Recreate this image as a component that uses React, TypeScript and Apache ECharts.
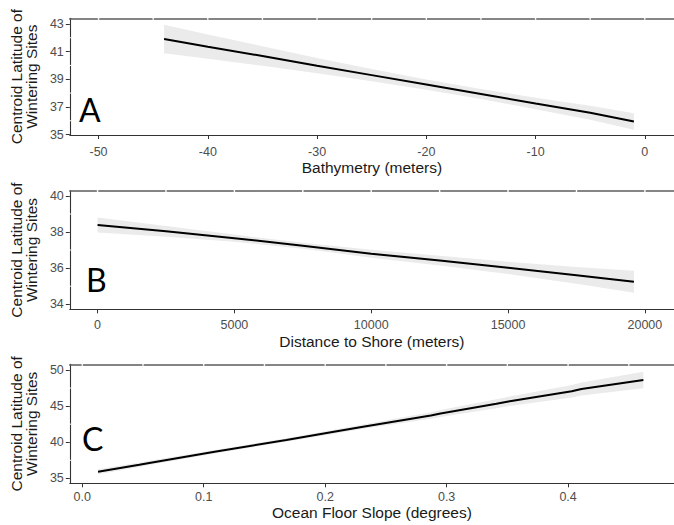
import React, { useEffect, useRef } from "react";
import * as echarts from "echarts";

// ---- Panel A: Bathymetry ----
const aX = [-44, -40, -35, -30, -25, -20, -15, -10, -5, -1];
const aFit = [41.92, 41.36, 40.68, 39.98, 39.3, 38.62, 37.94, 37.25, 36.58, 35.95];
const aLower = [40.89, 40.48, 39.97, 39.43, 38.86, 38.25, 37.58, 36.83, 36.08, 35.35];
const aUpper = [42.95, 42.24, 41.39, 40.53, 39.74, 38.99, 38.3, 37.67, 37.08, 36.55];
const aXTicks = [-50, -40, -30, -20, -10, 0];
const aXGrid = [-50, -45, -40, -35, -30, -25, -20, -15, -10, -5, 0];
const aYTicks = [35, 37, 39, 41, 43];
const aYMinor = [36, 38, 40, 42];

// ---- Panel B: Distance to shore ----
const bX = [0, 2500, 5000, 7500, 10000, 12500, 15000, 17500, 19600];
const bFit = [38.39, 38.04, 37.66, 37.24, 36.8, 36.42, 36.02, 35.6, 35.25];
const bLower = [37.98, 37.74, 37.46, 37.08, 36.58, 36.15, 35.68, 35.13, 34.64];
const bUpper = [38.8, 38.34, 37.86, 37.4, 37.02, 36.69, 36.36, 36.07, 35.86];
const bXTicks = [0, 5000, 10000, 15000, 20000];
const bXGrid = [0, 2500, 5000, 7500, 10000, 12500, 15000, 17500, 20000];
const bYTicks = [34, 36, 38, 40];
const bYMinor = [35, 37, 39];

// ---- Panel C: Ocean floor slope ----
const cX = [0.013, 0.047, 0.054, 0.109, 0.168, 0.206, 0.23, 0.287, 0.295, 0.341, 0.352, 0.403, 0.411, 0.462];
const cFit = [35.91, 36.88, 37.1, 38.68, 40.3, 41.42, 42.12, 43.7, 43.98, 45.33, 45.68, 47.05, 47.38, 48.61];
const cLower = [35.56, 36.58, 36.8, 38.43, 40.06, 41.15, 41.82, 43.25, 43.5, 44.71, 45.02, 46.19, 46.48, 47.46];
const cUpper = [36.26, 37.18, 37.4, 38.93, 40.54, 41.69, 42.42, 44.15, 44.46, 45.95, 46.34, 47.91, 48.28, 49.76];
const cXTicks = [0, 0.1, 0.2, 0.3, 0.4];
const cXGrid = [0, 0.05, 0.1, 0.15, 0.2, 0.25, 0.3, 0.35, 0.4, 0.45];
const cYTicks = [35, 40, 45, 50];
const cYMinor = [37.5, 42.5, 47.5];

const yTitle = "Centroid Latitude of\nWintering Sites";
const xTitles = ["Bathymetry (meters)", "Distance to Shore (meters)", "Ocean Floor Slope (degrees)"];
const panelLetters = ["A", "B", "C"];

const FONT = "'Liberation Sans', Arial, sans-serif";

const panels = [
  {
    x: aX, fit: aFit, lower: aLower, upper: aUpper,
    xTicks: aXTicks, xGrid: aXGrid, yTicks: aYTicks, yMinor: aYMinor,
    xMin: -52.63, xMax: 2.67, yMin: 34.97, yMax: 43.41,
    top: 18.3, height: 116.7, labelMargin: 10, nameGap: 24,
    fmt: (v: number) => String(v),
  },
  {
    x: bX, fit: bFit, lower: bLower, upper: bUpper,
    xTicks: bXTicks, xGrid: bXGrid, yTicks: bYTicks, yMinor: bYMinor,
    xMin: -1014, xMax: 21064, yMin: 33.72, yMax: 40.29,
    top: 190.7, height: 118.6, labelMargin: 9, nameGap: 24,
    fmt: (v: number) => String(v),
  },
  {
    x: cX, fit: cFit, lower: cLower, upper: cUpper,
    xTicks: cXTicks, xGrid: cXGrid, yTicks: cYTicks, yMinor: cYMinor,
    xMin: -0.01026, xMax: 0.4872, yMin: 34.31, yMax: 50.79,
    top: 364.3, height: 119, labelMargin: 7, nameGap: 20,
    fmt: (v: number) => v.toFixed(1),
  },
];

const letterPos = [
  { x: 79, y: 109 },
  { x: 86, y: 279.5 },
  { x: 82, y: 438 },
];

function buildOption() {
  const grid: any[] = [];
  const xAxis: any[] = [];
  const yAxis: any[] = [];
  const series: any[] = [];
  panels.forEach((p, i) => {
    grid.push({ left: 69, width: 616, top: p.top, height: p.height, containLabel: false });
    // top border axis
    xAxis.push({
      gridIndex: i,
      type: "value",
      position: "top",
      min: p.xMin,
      max: p.xMax,
      axisLine: { show: true, onZero: false, lineStyle: { color: "#5c5c5c", width: 1.6 } },
      axisTick: { show: false },
      axisLabel: { show: false },
      splitLine: { show: false },
    });
    // bottom axis
    xAxis.push({
      gridIndex: i,
      type: "value",
      position: "bottom",
      min: p.xMin,
      max: p.xMax,
      name: xTitles[i],
      nameLocation: "middle",
      nameGap: p.nameGap,
      nameTextStyle: { fontFamily: FONT, fontSize: 15.5, color: "#1a1a1a", lineHeight: 16 },
      axisLine: { show: true, onZero: false, lineStyle: { color: "#333333", width: 1.1 } },
      axisTick: { show: true, length: 4, customValues: p.xTicks, lineStyle: { color: "#333333", width: 1 } },
      axisLabel: {
        show: true,
        customValues: p.xTicks,
        formatter: p.fmt,
        fontFamily: FONT,
        fontSize: 12.5,
        color: "#4d4d4d",
        margin: p.labelMargin,
      },
      splitLine: { show: false },
    });
    yAxis.push({
      gridIndex: i,
      type: "value",
      min: p.yMin,
      max: p.yMax,
      name: yTitle,
      nameLocation: "middle",
      nameRotate: 90,
      nameGap: 24,
      nameTextStyle: { fontFamily: FONT, fontSize: 15.5, color: "#1a1a1a", lineHeight: 15, align: "center" },
      axisLine: { show: true, onZero: false, lineStyle: { color: "#333333", width: 1.1 } },
      axisTick: { show: true, length: 4, customValues: p.yTicks, lineStyle: { color: "#333333", width: 1 } },
      axisLabel: {
        show: true,
        customValues: p.yTicks,
        fontFamily: FONT,
        fontSize: 12.5,
        color: "#4d4d4d",
        margin: 6,
      },
      splitLine: { show: false },
    });
    const xi = i * 2 + 1;
    // confidence band drawn as one polygon through the axes' scales
    series.push({
      type: "custom",
      xAxisIndex: xi,
      yAxisIndex: i,
      silent: true,
      clip: true,
      z: 2,
      data: p.x.map((x, k) => [x, p.lower[k], p.upper[k]]),
      encode: { x: 0, y: [1, 2] },
      renderItem: (params: any, api: any) => {
        if (params.dataIndex !== 0) return null;
        const pts: number[][] = [];
        for (let k = 0; k < p.x.length; k++) pts.push(api.coord([p.x[k], p.upper[k]]));
        for (let k = p.x.length - 1; k >= 0; k--) pts.push(api.coord([p.x[k], p.lower[k]]));
        return { type: "polygon", shape: { points: pts }, style: { fill: "#ebebeb", stroke: "none" } };
      },
    });
    series.push({
      type: "line",
      xAxisIndex: xi,
      yAxisIndex: i,
      symbol: "none",
      silent: true,
      z: 5,
      lineStyle: { color: "#000000", width: 2 },
      data: p.x.map((x, k) => [x, p.fit[k]]),
    });
    // white grid-line gaps across the top border
    series.push({
      type: "custom",
      xAxisIndex: xi,
      yAxisIndex: i,
      silent: true,
      clip: false,
      z: 6,
      data: p.xGrid.map((v) => [v]),
      encode: { x: 0 },
      renderItem: (params: any, api: any) => {
        const c = api.coord([api.value(0), p.yMax]);
        return {
          type: "line",
          shape: { x1: c[0], y1: c[1] - 1.5, x2: c[0], y2: c[1] + 1.5 },
          style: { stroke: "#ffffff", lineWidth: 1.4 },
        };
      },
    });
    // white minor grid-line gaps across the left axis
    series.push({
      type: "custom",
      xAxisIndex: xi,
      yAxisIndex: i,
      silent: true,
      clip: false,
      z: 6,
      data: p.yMinor.map((v) => [p.xMin, v]),
      encode: { x: 0, y: 1 },
      renderItem: (params: any, api: any) => {
        const c = api.coord([p.xMin, api.value(1)]);
        return {
          type: "line",
          shape: { x1: c[0] - 1.2, y1: c[1], x2: c[0] + 1.2, y2: c[1] },
          style: { stroke: "#ffffff", lineWidth: 1 },
        };
      },
    });
  });

  const graphic = panelLetters.map((t, i) => ({
    type: "text",
    x: letterPos[i].x,
    y: letterPos[i].y,
    z: 10,
    style: {
      text: t,
      fontFamily: "Lato, 'Open Sans', sans-serif",
      fontSize: 32,
      fill: "#000000",
      verticalAlign: "middle",
      align: "left",
    },
  }));

  return {
    animation: false,
    backgroundColor: "#ffffff",
    grid,
    xAxis,
    yAxis,
    series,
    graphic,
  };
}

export default function App() {
  const ref = useRef<HTMLDivElement>(null);
  useEffect(() => {
    if (!ref.current) return;
    const chart = echarts.init(ref.current, null, { renderer: "svg" });
    chart.setOption(buildOption() as any);
    return () => chart.dispose();
  }, []);
  return (
    <div
      ref={ref}
      style={{ position: "absolute", left: 0, top: 0, width: 674, height: 525, background: "#fff" }}
    />
  );
}
